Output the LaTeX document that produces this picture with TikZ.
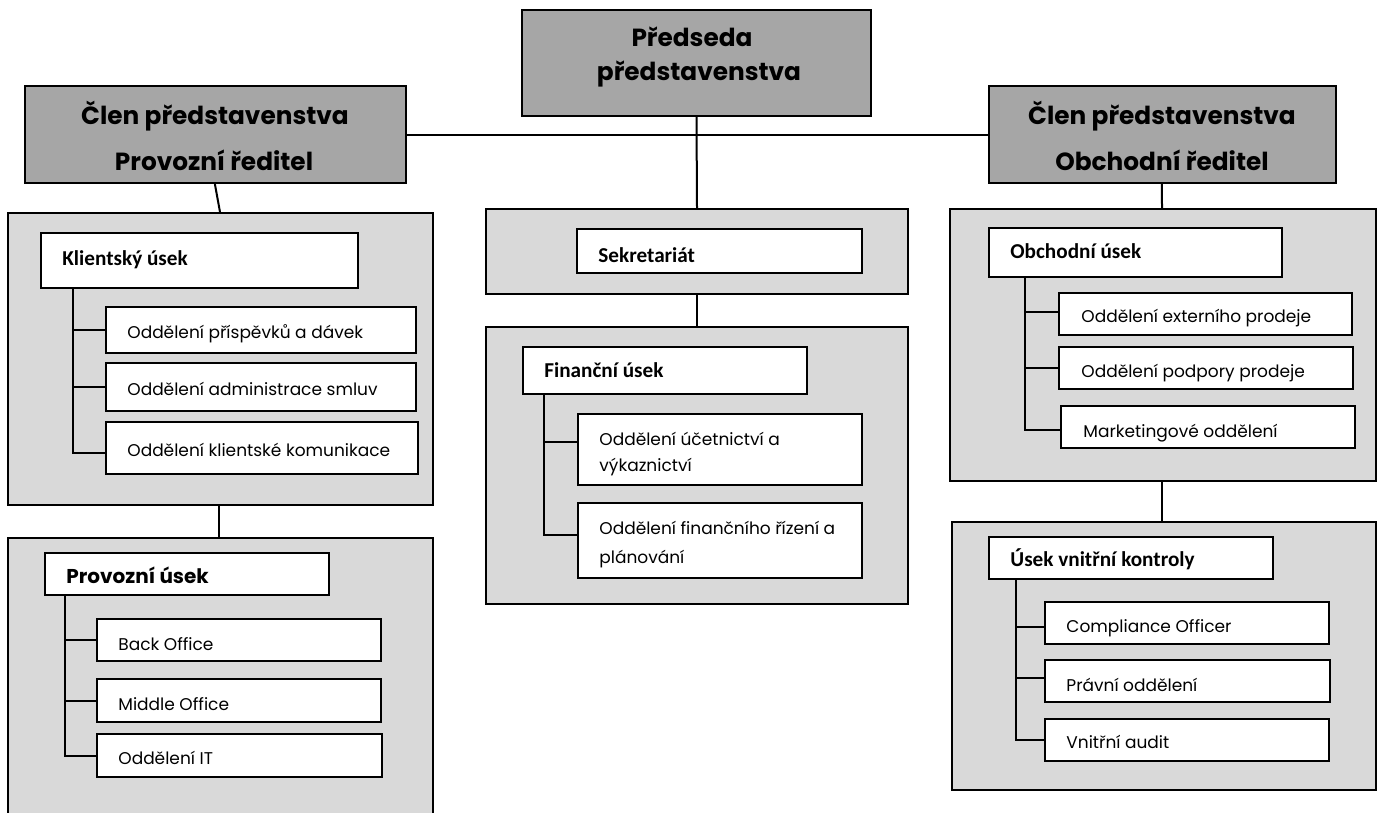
\documentclass[tikz,border=0pt]{standalone}
\usepackage{fontspec}
\setmainfont{Poppins}
\newfontfamily\carl{Carlito}
\usetikzlibrary{fit,calc}
\definecolor{headgray}{HTML}{A6A6A6}
\definecolor{panelgray}{HTML}{D9D9D9}
\begin{document}
\begin{tikzpicture}[x=0.5pt,y=-0.5pt,
  hbox/.style={draw, line width=1.1pt, fill=headgray, inner sep=0pt},
  panel/.style={draw, line width=1pt, fill=panelgray, inner sep=0pt},
  ubox/.style={draw, line width=1pt, fill=white, inner sep=0pt},
  htext/.style={font=\fontsize{12.4}{15}\selectfont\bfseries, inner sep=0pt, anchor=base},
  stext/.style={font=\fontsize{8.5}{10}\selectfont, inner sep=0pt, anchor=base west},
  ctext/.style={font=\carl\fontsize{10.6}{12}\selectfont\bfseries, inner sep=0pt, anchor=base west},
  ptext/.style={font=\fontsize{10}{12}\selectfont\bfseries, inner sep=0pt, anchor=base west},
  link/.style={line width=1pt}]
\path[use as bounding box] (0,0) rectangle (1380,813);
\clip (0,0) rectangle (1380,813);

% ---------- top level ----------
\node[hbox, fit={(522,10)(871,116)}] (pred) {};
\node[htext] (predt1) at (692,47) {Předseda};
\node[htext] (predt2) at (699,81) {představenstva};

\node[hbox, fit={(25,86)(406,183)}] (lhead) {};
\node[htext] (lht1) at (215,125) {Člen představenstva};
\node[htext] (lht2) at (214,170) {Provozní ředitel};

\node[hbox, fit={(989,86)(1336,183)}] (rhead) {};
\node[htext] (rht1) at (1162,125) {Člen představenstva};
\node[htext] (rht2) at (1162,170) {Obchodní ředitel};

% ---------- panels ----------
\node[panel, fit={(8,213)(433,505)}] (lp1) {};
\node[panel, fit={(8,538)(433,840)}] (lp2) {};
\node[panel, fit={(486,209)(908,294)}] (mp1) {};
\node[panel, fit={(486,327)(908,604)}] (mp2) {};
\node[panel, fit={(950,209)(1376,481)}] (rp1) {};
\node[panel, fit={(952,522)(1376,790)}] (rp2) {};

% ---------- connectors between top level and panels ----------
\draw[link] (lhead.east) -- (rhead.west);
\draw[link] (pred.south) -- (mp1.north);
\draw[link] ($(lhead.south west)+(191,0)$) -- ($(lp1.north west)+(213,0)$);
\draw[link] ($(rhead.south west)+(174,0)$) -- ($(rp1.north west)+(213,0)$);
\draw[link] ($(lp1.south west)+(212,0)$) -- ($(lp2.north west)+(212,0)$);
\draw[link] (mp1.south) -- (mp2.north);
\draw[link] ($(rp1.south west)+(213,0)$) -- ($(rp2.north west)+(211,0)$);

% ---------- left: Klientsky usek ----------
\node[ubox, fit={(41,233)(358,288)}] (klient) {};
\node[ctext] (klientt) at (62,265) {Klientský úsek};
\node[ubox, fit={(106,307)(416,353)}] (k1) {};
\node[stext] (k1t) at (127,338) {Oddělení příspěvků a dávek};
\node[ubox, fit={(106,363)(416,411)}] (k2) {};
\node[stext] (k2t) at (127,395) {Oddělení administrace smluv};
\node[ubox, fit={(106,422)(418,474)}] (k3) {};
\node[stext] (k3t) at (127,456) {Oddělení klientské komunikace};
\coordinate (kroot) at ($(klient.south west)+(33,0)$);
\draw[link] (kroot) |- ($(k3.west)+(0,5)$);
\draw[link] (kroot) |- (k1.west);
\draw[link] (kroot) |- (k2.west);

% ---------- left: Provozni usek ----------
\node[ubox, fit={(45,553)(329,595)}] (prov) {};
\node[ptext] (provt) at (66,583) {Provozní úsek};
\node[ubox, fit={(97,619)(381,661)}] (p1) {};
\node[stext] (p1t) at (118,650) {Back Office};
\node[ubox, fit={(97,679)(381,722)}] (p2) {};
\node[stext] (p2t) at (118,710) {Middle Office};
\node[ubox, fit={(97,734)(382,777)}] (p3) {};
\node[stext] (p3t) at (118,764) {Oddělení IT};
\coordinate (proot) at ($(prov.south west)+(21,0)$);
\draw[link] (proot) |- (p3.west);
\draw[link] (proot) |- (p1.west);
\draw[link] (proot) |- (p2.west);

% ---------- middle ----------
\node[ubox, fit={(577,229)(862,273)}] (sekr) {};
\node[ctext] (sekrt) at (598,262) {Sekretariát};

\node[ubox, fit={(523,347)(807,394)}] (fin) {};
\node[ctext] (fint) at (544,377) {Finanční úsek};
\node[ubox, fit={(578,414)(862,485)}] (f1) {};
\node[stext] (f1t) at (599,445) {Oddělení účetnictví a};
\node[stext] (f1u) at (599,471) {výkaznictví};
\node[ubox, fit={(578,503)(862,578)}] (f2) {};
\node[stext] (f2t) at (599,534) {Oddělení finančního řízení a};
\node[stext] (f2u) at (599,563) {plánování};
\coordinate (froot) at ($(fin.south west)+(22,0)$);
\draw[link] (froot) |- ($(f2.west)+(0,-6)$);
\draw[link] (froot) |- ($(f1.west)+(0,-8)$);

% ---------- right: Obchodni usek ----------
\node[ubox, fit={(989,228)(1282,277)}] (obch) {};
\node[ctext] (obcht) at (1010,258) {Obchodní úsek};
\node[ubox, fit={(1059,293)(1352,335)}] (o1) {};
\node[stext] (o1t) at (1081,322) {Oddělení externího prodeje};
\node[ubox, fit={(1059,347)(1353,389)}] (o2) {};
\node[stext] (o2t) at (1081,377) {Oddělení podpory prodeje};
\node[ubox, fit={(1061,406)(1355,448)}] (o3) {};
\node[stext] (o3t) at (1083,437) {Marketingové oddělení};
\coordinate (oroot) at ($(obch.south west)+(37,0)$);
\draw[link] (oroot) |- ($(o3.west)+(0,3)$);
\draw[link] (oroot) |- ($(o1.west)+(0,-2)$);
\draw[link] (oroot) |- (o2.west);

% ---------- right: Usek vnitrni kontroly ----------
\node[ubox, fit={(989,537)(1273,579)}] (kontr) {};
\node[ctext] (kontrt) at (1010,566) {Úsek vnitřní kontroly};
\node[ubox, fit={(1045,602)(1329,644)}] (c1) {};
\node[stext] (c1t) at (1066,632) {Compliance Officer};
\node[ubox, fit={(1045,660)(1330,702)}] (c2) {};
\node[stext] (c2t) at (1066,691) {Právní oddělení};
\node[ubox, fit={(1045,719)(1329,761)}] (c3) {};
\node[stext] (c3t) at (1066,748) {Vnitřní audit};
\coordinate (croot) at ($(kontr.south west)+(28,0)$);
\draw[link] (croot) |- (c3.west);
\draw[link] (croot) |- ($(c1.west)+(0,4)$);
\draw[link] (croot) |- ($(c2.west)+(0,-3)$);
\end{tikzpicture}
\end{document}
